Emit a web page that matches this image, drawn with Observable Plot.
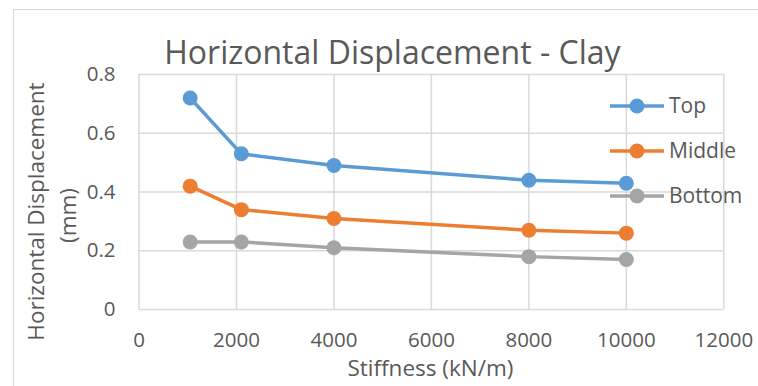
<!DOCTYPE html>
<html>
<head>
<meta charset="utf-8">
<script src="https://cdn.jsdelivr.net/npm/d3@7"></script>
<script src="https://cdn.jsdelivr.net/npm/@observablehq/plot@0.6"></script>
<style>
  html, body { margin: 0; padding: 0; background: #fff; overflow: hidden; }
  #chart { position: relative; width: 758px; height: 386px; overflow: hidden; font-family: "Open Sans", Lato, sans-serif; }
  #border { position: absolute; left: 13px; top: 9px; width: 900px; height: 500px; border: 1px solid #D9D9D9; box-sizing: border-box; }
  #plot { position: absolute; left: 0; top: 0; }
  #legend { position: absolute; left: 609px; top: 83px; }
  .item { display: flex; align-items: center; height: 45px; }
  .item span { font-size: 21px; color: #595959; margin-left: 4px; line-height: 1; }
</style>
</head>
<body>
<div id="chart">
  <div id="border"></div>
  <div id="plot"></div>
  <div id="legend"></div>
</div>
<script>
// Stiffness values (kN/m) and horizontal displacement (mm) per depth
const stiffness = [1050, 2100, 4000, 8000, 10000];
const topDisp = [0.72, 0.53, 0.49, 0.44, 0.43];
const middleDisp = [0.42, 0.34, 0.31, 0.27, 0.26];
const bottomDisp = [0.23, 0.23, 0.21, 0.18, 0.17];

const seriesNames = ["Top", "Middle", "Bottom"];
const seriesColors = ["#5B9BD5", "#ED7D31", "#A5A5A5"];
const seriesValues = [topDisp, middleDisp, bottomDisp];

const xTicks = [0, 2000, 4000, 6000, 8000, 10000, 12000];
const yTicks = [0, 0.2, 0.4, 0.6, 0.8];

const titleText = "Horizontal Displacement - Clay";
const xLabel = "Stiffness (kN/m)";
const yLabelLines = ["Horizontal Displacement", "(mm)"];

const rows = seriesNames.flatMap((name, i) =>
  stiffness.map((s, j) => ({series: name, stiffness: s, disp: seriesValues[i][j]}))
);

const textColor = "#595959";
const gridColor = "#D9D9D9";
const font = "'Open Sans', Lato, sans-serif";

const seriesMarks = seriesNames.flatMap((name) => {
  const d = rows.filter((r) => r.series === name);
  return [
    Plot.line(d, {x: "stiffness", y: "disp", stroke: "series", strokeWidth: 3.5}),
    Plot.dot(d, {x: "stiffness", y: "disp", fill: "series", r: 7.5, stroke: null})
  ];
});

const plot = Plot.plot({
  width: 758,
  height: 386,
  marginLeft: 138.5,
  marginRight: 34.7,
  marginTop: 74,
  marginBottom: 77,
  style: {fontFamily: font, background: "transparent", overflow: "visible"},
  x: {domain: [0, 12000]},
  y: {domain: [0, 0.8]},
  color: {domain: seriesNames, range: seriesColors},
  marks: [
    Plot.gridX(xTicks, {stroke: gridColor, strokeOpacity: 1, strokeWidth: 1.5}),
    Plot.gridY(yTicks, {stroke: gridColor, strokeOpacity: 1, strokeWidth: 1.5}),
    Plot.axisX(xTicks, {tickSize: 0, tickPadding: 23, fontSize: 20.5, fill: textColor, label: null, tickFormat: (d) => String(d)}),
    Plot.axisY(yTicks, {tickSize: 0, tickPadding: 23.5, fontSize: 20.5, fill: textColor, label: null, tickFormat: (d) => String(d)}),
    ...seriesMarks,
    Plot.text([titleText], {frameAnchor: "top", textAnchor: "middle", lineAnchor: "bottom", dx: -39, dy: -11, fontSize: 32, fill: textColor}),
    Plot.text([xLabel], {frameAnchor: "bottom", textAnchor: "middle", lineAnchor: "bottom", dx: -1, dy: 66, fontSize: 22.5, fill: textColor}),
    Plot.text([yLabelLines[0]], {frameAnchor: "left", textAnchor: "middle", rotate: -90, lineAnchor: "middle", dx: -102.5, dy: 19.5, fontSize: 22.5, fill: textColor}),
    Plot.text([yLabelLines[1]], {frameAnchor: "left", textAnchor: "middle", rotate: -90, lineAnchor: "middle", dx: -70.5, dy: 23.5, fontSize: 22.5, fill: textColor})
  ]
});
document.getElementById("plot").appendChild(plot);

// Legend: line with a dot marker, followed by the series name
const legend = d3.select("#legend");
seriesNames.forEach((name, i) => {
  const item = legend.append("div").attr("class", "item");
  const sw = item.append("svg").attr("width", 56).attr("height", 18);
  sw.append("line").attr("x1", 1).attr("x2", 55).attr("y1", 9).attr("y2", 9)
    .attr("stroke", seriesColors[i]).attr("stroke-width", 3.5);
  sw.append("circle").attr("cx", 28).attr("cy", 9).attr("r", 7.5).attr("fill", seriesColors[i]);
  item.append("span").text(name);
});
</script>
</body>
</html>
